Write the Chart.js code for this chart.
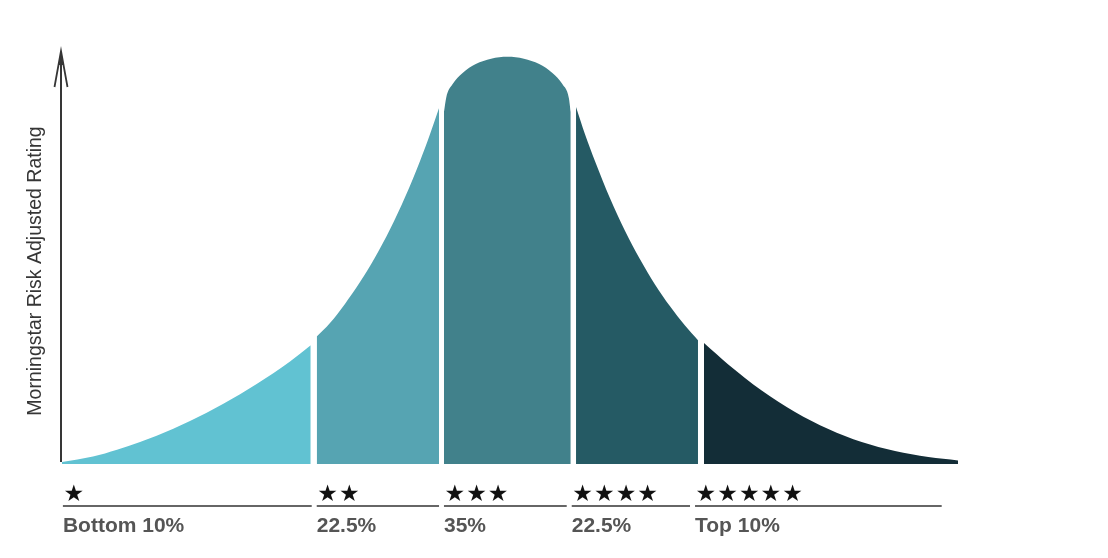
<!DOCTYPE html>
<html>
<head>
<meta charset="utf-8">
<script src="https://cdn.jsdelivr.net/npm/chart.js@4/dist/chart.umd.min.js"></script>
<style>
  html, body { margin: 0; padding: 0; background: #ffffff; }
  #wrap { width: 1108px; height: 558px; }
</style>
</head>
<body>
<div id="wrap"><canvas id="c" width="1108" height="558"></canvas></div>
<script>
// ---- data (x: position along the rating scale 0-100, y: relative frequency) ----
const band1X = [0, 3.46, 6.14, 8.71, 12.42, 16.15, 19.87, 23.58, 25.45, 27.76];
const band1Y = [0.52, 1.94, 3.70, 5.70, 9.15, 13.26, 18.06, 23.50, 26.58, 30.75];

const band2X = [28.43, 29.91, 31.58, 33.26, 34.93, 36.61, 38.28, 39.96, 41.07, 42.08];
const band2Y = [33.0, 36.5, 41.48, 47.12, 53.52, 60.8, 69.09, 78.5, 85.44, 92.23];

const band3X = [42.63, 42.88, 43.58, 44.71, 46.18, 47.89, 49.72, 51.55, 53.26, 54.73, 55.86, 56.56, 56.78];
const band3Y = [91.19, 94.9, 98.35, 101.3, 103.6, 105.0, 105.5, 105.0, 103.6, 101.3, 98.35, 94.9, 91.19];

const band4X = [57.37, 58.37, 59.49, 61.16, 62.83, 64.51, 66.18, 67.86, 69.53, 70.98];
const band4Y = [92.49, 85.41, 78.45, 68.83, 60.41, 53.03, 46.53, 40.85, 35.85, 32.07];

const band5X = [71.65, 74.36, 78.09, 81.81, 85.53, 89.25, 92.97, 96.69, 100];
const band5Y = [31.35, 25.80, 19.04, 13.45, 9.04, 5.67, 3.34, 1.79, 0.93];

// legend tiers
const tierStars  = [1, 2, 3, 4, 5];
const tierLabels = ['Bottom 10%', '22.5%', '35%', '22.5%', 'Top 10%'];
const tierStart  = [0.1, 28.43, 42.63, 56.89, 70.65];
const tierEnd    = [27.87, 42.08, 56.33, 70.09, 98.18];

const axisTitle = 'Morningstar Risk Adjusted Rating';
const bandColors = ['#61c2d2', '#56a4b2', '#41818b', '#255a64', '#132d37'];

// ---- build datasets ----
const bandsX = [band1X, band2X, band3X, band4X, band5X];
const bandsY = [band1Y, band2Y, band3Y, band4Y, band5Y];
const datasets = bandsX.map((xs, i) => ({
  label: tierLabels[i],
  data: xs.map((x, j) => ({ x: x, y: bandsY[i][j] })),
  backgroundColor: bandColors[i],
  borderColor: bandColors[i],
  borderWidth: 0,
  pointRadius: 0,
  fill: 'origin',
  cubicInterpolationMode: 'monotone',
  clip: false
}));

const decorPlugin = {
  id: 'decor',
  afterDraw(chart) {
    const ctx = chart.ctx;
    const area = chart.chartArea;
    const xs = chart.scales.x;
    ctx.save();
    // vertical axis with arrow
    const ax = area.left - 1;
    const topY = area.top + 1;
    ctx.strokeStyle = '#363636';
    ctx.lineWidth = 2;
    ctx.beginPath();
    ctx.moveTo(ax, area.bottom - 2);
    ctx.lineTo(ax, topY + 2);
    ctx.stroke();
    ctx.lineWidth = 1.8;
    ctx.beginPath();
    ctx.moveTo(ax - 6.5, topY + 36);
    ctx.lineTo(ax, topY);
    ctx.lineTo(ax + 6.5, topY + 36);
    ctx.stroke();
    ctx.fillStyle = '#363636';
    ctx.beginPath();
    ctx.moveTo(ax - 2.5, topY + 14);
    ctx.lineTo(ax, topY);
    ctx.lineTo(ax + 2.5, topY + 14);
    ctx.closePath();
    ctx.fill();

    // axis title
    ctx.save();
    ctx.translate(area.left - 26, area.bottom - 193);
    ctx.rotate(-Math.PI / 2);
    ctx.fillStyle = '#363636';
    ctx.font = '19.5px "Liberation Sans", Arial, sans-serif';
    ctx.textAlign = 'center';
    ctx.textBaseline = 'middle';
    ctx.fillText(axisTitle, 0, 0);
    ctx.restore();

    // tier legend below the curve
    for (let i = 0; i < tierLabels.length; i++) {
      const x0 = xs.getPixelForValue(tierStart[i]);
      const x1 = xs.getPixelForValue(tierEnd[i]);
      // stars
      ctx.fillStyle = '#111111';
      ctx.font = '23px "DejaVu Sans"';
      ctx.textAlign = 'left';
      ctx.textBaseline = 'alphabetic';
      for (let k = 0; k < tierStars[i]; k++) {
        ctx.fillText('\u2605', x0 + 0.5 + k * 21.7, area.bottom + 37);
      }
      // underline
      ctx.strokeStyle = '#666666';
      ctx.lineWidth = 2;
      ctx.beginPath();
      ctx.moveTo(x0, area.bottom + 42);
      ctx.lineTo(x1, area.bottom + 42);
      ctx.stroke();
      // label
      ctx.fillStyle = '#555555';
      ctx.font = 'bold 21px "Liberation Sans", Arial, sans-serif';
      ctx.fillText(tierLabels[i], x0, area.bottom + 68);
    }
    ctx.restore();
  }
};

new Chart(document.getElementById('c'), {
  type: 'line',
  data: { datasets: datasets },
  options: {
    responsive: false,
    animation: false,
    events: [],
    layout: { padding: { left: 62, top: 50, right: 150, bottom: 94 } },
    plugins: { legend: { display: false }, tooltip: { enabled: false } },
    scales: {
      x: { type: 'linear', min: 0, max: 100, display: false },
      y: { type: 'linear', min: 0, max: 107.25, display: false }
    }
  },
  plugins: [decorPlugin]
});
</script>
</body>
</html>
